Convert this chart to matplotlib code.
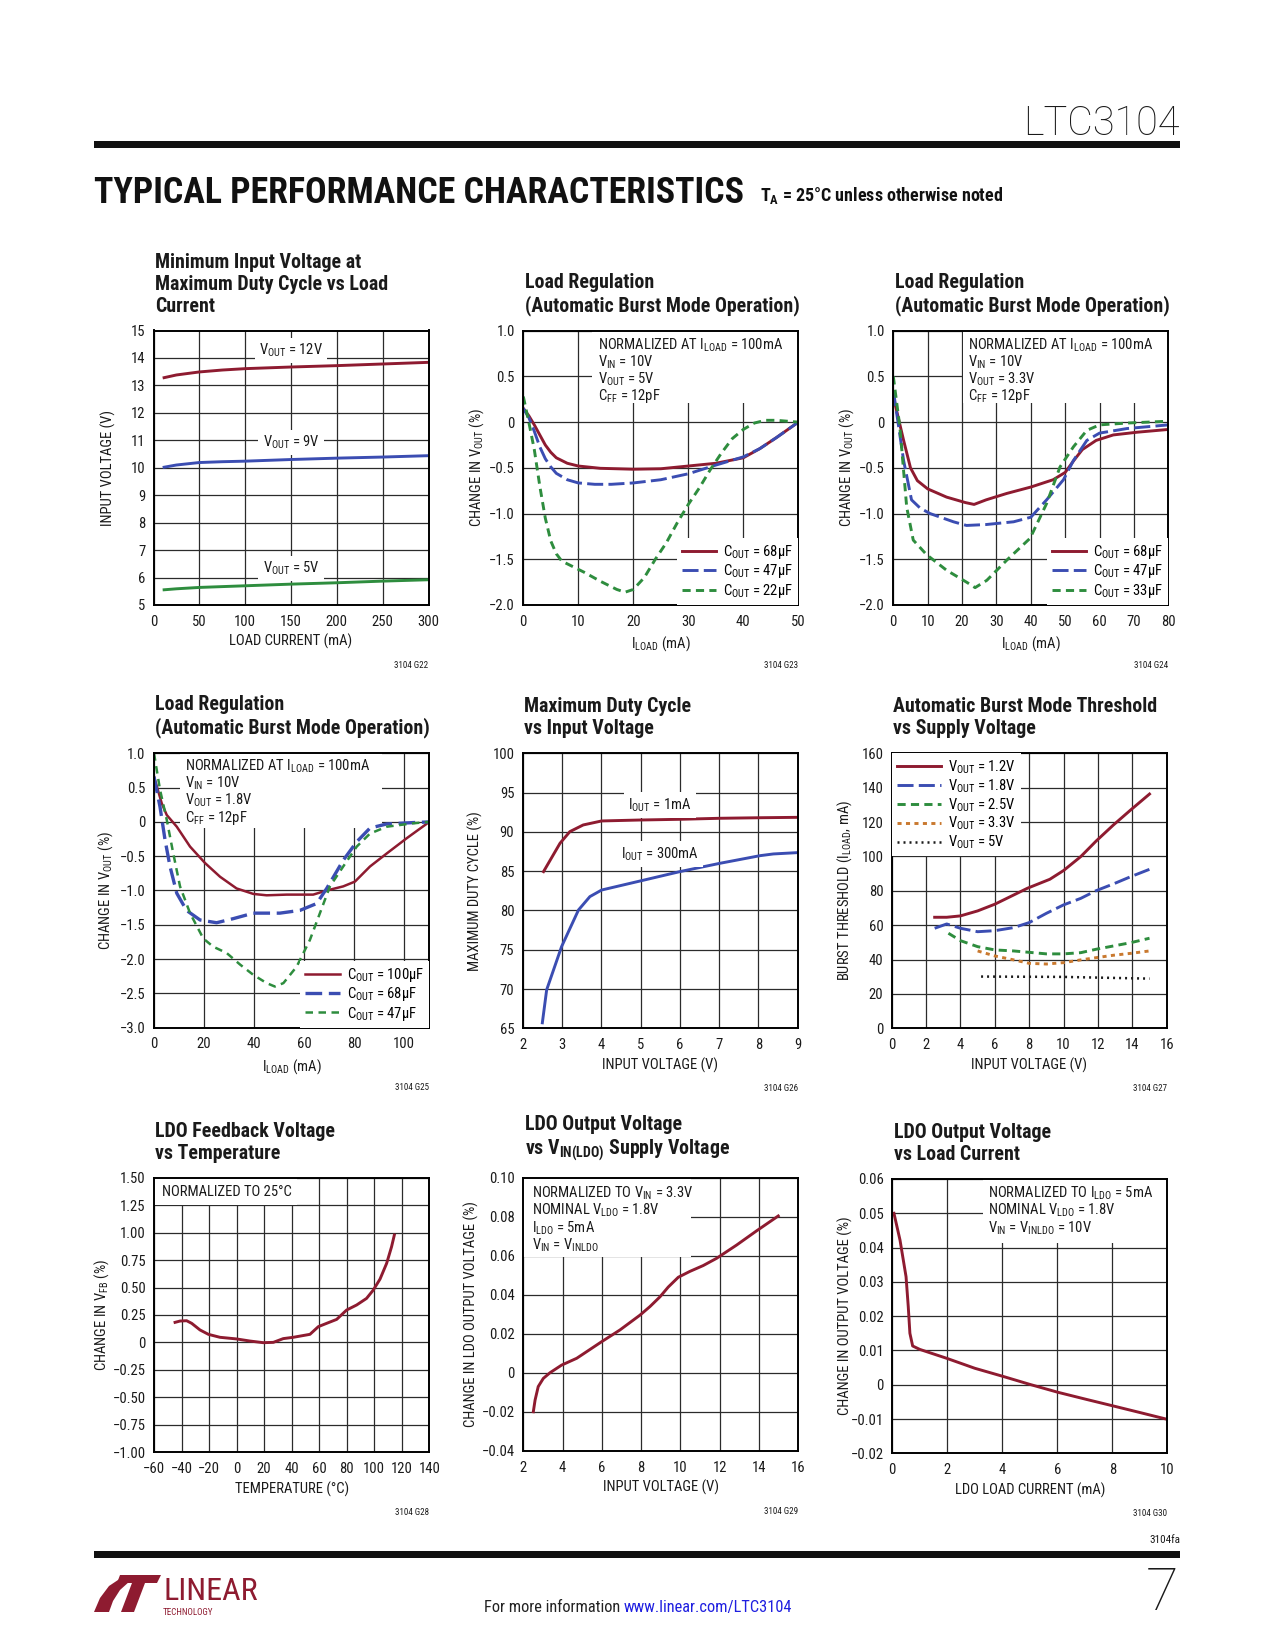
import matplotlib
matplotlib.use('Agg')
import matplotlib.pyplot as plt
from matplotlib import font_manager as fm
from matplotlib.patches import Rectangle, Polygon


def pick_font():
    ttf = fm.fontManager.ttflist
    names = {f.name for f in ttf}
    for n in ['Liberation Sans Narrow', 'Roboto Condensed', 'Open Sans Condensed',
              'Noto Sans Condensed', 'DejaVu Sans Condensed', 'Arial Narrow']:
        if n in names:
            return n, 'normal'
    for n in sorted(names):
        if ('Narrow' in n or 'Condensed' in n) and 'Serif' not in n and 'Mono' not in n \
                and 'CJK' not in n:
            return n, 'normal'
    for fam in ['Noto Sans', 'Open Sans', 'DejaVu Sans', 'Roboto', 'Inter']:
        for f in ttf:
            if f.name == fam and str(f.stretch) in ('condensed', 'semi-condensed',
                                                    'extra-condensed'):
                return fam, str(f.stretch)
    return 'Liberation Sans', 'normal'


FONT, STRETCH = pick_font()
_names = {f.name for f in fm.fontManager.ttflist}
LIGHT = 'Roboto' if 'Roboto' in _names else FONT

plt.rcParams['font.family'] = [FONT, 'DejaVu Sans']
plt.rcParams['font.stretch'] = STRETCH
plt.rcParams['mathtext.fontset'] = 'custom'
_suffix = '' if STRETCH == 'normal' else ':stretch=' + STRETCH
try:
    fm.FontProperties(FONT + _suffix)
except Exception:
    _suffix = ''
plt.rcParams['mathtext.rm'] = FONT + _suffix
plt.rcParams['mathtext.it'] = FONT + ':italic' + _suffix
plt.rcParams['mathtext.bf'] = FONT + ':bold' + _suffix
plt.rcParams['mathtext.sf'] = FONT + _suffix

RED = '#8E1B30'
BLUE = '#3B4DB2'
GREEN = '#2E8D3E'
ORANGE = '#C9792F'
BLACK = '#1a1a1a'

# ---------------- data ----------------
# G22: minimum input voltage vs load current
g22_x = [10, 25, 50, 75, 100, 150, 200, 250, 300]
g22_v12 = [13.27, 13.38, 13.49, 13.56, 13.61, 13.67, 13.72, 13.78, 13.84]
g22_v9 = [10.01, 10.10, 10.19, 10.22, 10.24, 10.30, 10.35, 10.39, 10.44]
g22_v5 = [5.55, 5.59, 5.64, 5.67, 5.70, 5.76, 5.81, 5.87, 5.92]
g22_labels = [r'V$_{\mathrm{OUT}}$ = 12V', r'V$_{\mathrm{OUT}}$ = 9V', r'V$_{\mathrm{OUT}}$ = 5V']

# G23: load regulation, VOUT = 5V
g23_x68 = [0, 1, 2, 3, 4, 5, 6, 8, 10, 14, 20, 25, 30, 35, 40, 43, 46, 50]
g23_y68 = [0.15, 0.07, -0.03, -0.14, -0.25, -0.33, -0.39, -0.45, -0.48, -0.505, -0.515, -0.51,
           -0.48, -0.45, -0.39, -0.29, -0.17, 0.0]
g23_x47 = [0, 1, 2, 3, 4, 5, 6, 8, 10, 13, 16, 20, 25, 30, 35, 40, 43, 46, 50]
g23_y47 = [0.15, 0.05, -0.10, -0.27, -0.40, -0.49, -0.56, -0.63, -0.665, -0.68, -0.68, -0.665,
           -0.63, -0.565, -0.47, -0.38, -0.29, -0.17, 0.0]
g23_x22 = [0, 1, 2, 3, 4, 5, 6, 7, 9, 11, 14, 17, 18.5, 20, 22, 24, 26, 28, 30, 32, 34, 36, 38,
           40, 42, 44, 46, 48, 50]
g23_y22 = [0.28, 0.0, -0.30, -0.70, -1.05, -1.30, -1.44, -1.52, -1.58, -1.64, -1.74, -1.83, -1.86,
           -1.83, -1.70, -1.50, -1.32, -1.10, -0.90, -0.72, -0.52, -0.34, -0.18, -0.08, -0.01,
           0.02, 0.02, 0.01, 0.0]
g23_labels = [r'C$_{\mathrm{OUT}}$ = 68µF', r'C$_{\mathrm{OUT}}$ = 47µF', r'C$_{\mathrm{OUT}}$ = 22µF']
g23_notes = [r'NORMALIZED AT I$_{\mathrm{LOAD}}$ = 100mA', r'V$_{\mathrm{IN}}$ = 10V',
             r'V$_{\mathrm{OUT}}$ = 5V', r'C$_{\mathrm{FF}}$ = 12pF']

# G24: load regulation, VOUT = 3.3V
g24_x68 = [0, 3, 5, 7, 10, 15.5, 21, 23.5, 27, 33, 40, 46.5, 50, 52.5, 55, 59, 64, 71, 80]
g24_y68 = [0.28, -0.20, -0.50, -0.64, -0.73, -0.82, -0.88, -0.90, -0.85, -0.78, -0.71, -0.63,
           -0.55, -0.42, -0.30, -0.20, -0.14, -0.11, -0.08]
g24_x47 = [0, 3, 5.3, 7.8, 10.7, 17.5, 21.3, 27, 35, 40, 44.6, 49.5, 52.4, 56.3, 60, 68, 80]
g24_y47 = [0.35, -0.42, -0.85, -0.94, -1.00, -1.09, -1.13, -1.12, -1.09, -1.04, -0.85, -0.63,
           -0.42, -0.20, -0.12, -0.07, -0.03]
g24_x33 = [0, 1.9, 3.9, 5.8, 9.7, 15.5, 21.3, 23.8, 27.2, 33, 39.8, 44.6, 48.5, 52.4, 56.3, 60,
           68, 80]
g24_y33 = [0.50, -0.05, -0.93, -1.29, -1.45, -1.62, -1.75, -1.81, -1.73, -1.51, -1.27, -0.89,
           -0.49, -0.27, -0.09, -0.03, -0.01, 0.01]
g24_labels = [r'C$_{\mathrm{OUT}}$ = 68µF', r'C$_{\mathrm{OUT}}$ = 47µF', r'C$_{\mathrm{OUT}}$ = 33µF']
g24_notes = [r'NORMALIZED AT I$_{\mathrm{LOAD}}$ = 100mA', r'V$_{\mathrm{IN}}$ = 10V',
             r'V$_{\mathrm{OUT}}$ = 3.3V', r'C$_{\mathrm{FF}}$ = 12pF']

# G25: load regulation, VOUT = 1.8V
g25_x100 = [0, 3.1, 5.1, 9.1, 14.4, 20.4, 26.4, 33, 39.7, 45, 53, 63.6, 69, 75.6, 80.3, 86.3, 93,
            100.9, 110]
g25_y100 = [0.66, 0.27, 0.10, -0.07, -0.36, -0.60, -0.80, -0.97, -1.05, -1.07, -1.06, -1.06, -1.00,
            -0.94, -0.87, -0.65, -0.46, -0.24, 0.0]
g25_x68 = [0, 2.4, 4.4, 6.4, 9.1, 13, 18.4, 25, 31.7, 39.7, 50.3, 58.3, 65, 69, 75.6, 81, 86.3,
           93, 103.6, 110]
g25_y68 = [0.66, 0.22, -0.26, -0.65, -1.04, -1.29, -1.43, -1.47, -1.41, -1.33, -1.33, -1.29, -1.19,
           -0.97, -0.56, -0.29, -0.09, -0.03, -0.01, 0.0]
g25_x47 = [0, 2.4, 5.1, 7.7, 10.4, 14.4, 19.7, 23.7, 29, 34.4, 39.7, 45, 48.3, 51.7, 57, 62.3,
           66.3, 70.3, 75.6, 81, 86.3, 93, 103.6, 110]
g25_y47 = [1.0, 0.47, 0.03, -0.46, -0.94, -1.33, -1.70, -1.82, -1.91, -2.08, -2.23, -2.35, -2.40,
           -2.35, -2.11, -1.72, -1.33, -0.94, -0.65, -0.36, -0.17, -0.07, -0.02, 0.0]
g25_labels = [r'C$_{\mathrm{OUT}}$ = 100µF', r'C$_{\mathrm{OUT}}$ = 68µF', r'C$_{\mathrm{OUT}}$ = 47µF']
g25_notes = [r'NORMALIZED AT I$_{\mathrm{LOAD}}$ = 100mA', r'V$_{\mathrm{IN}}$ = 10V',
             r'V$_{\mathrm{OUT}}$ = 1.8V', r'C$_{\mathrm{FF}}$ = 12pF']

# G26: maximum duty cycle vs input voltage
g26_x1 = [2.53, 2.95, 3.2, 3.54, 4.01, 4.99, 6.0, 7.02, 8.04, 9.0]
g26_y1 = [84.94, 88.55, 90.03, 90.88, 91.39, 91.51, 91.60, 91.73, 91.80, 91.85]
g26_x300 = [2.5, 2.61, 2.99, 3.42, 3.71, 4.01, 4.99, 6.0, 7.02, 8.04, 8.38, 9.0]
g26_y300 = [65.7, 69.9, 75.4, 80.06, 81.76, 82.6, 83.75, 84.94, 86.0, 86.97, 87.19, 87.36]
g26_labels = [r'I$_{\mathrm{OUT}}$ = 1mA', r'I$_{\mathrm{OUT}}$ = 300mA']

# G27: burst threshold vs supply voltage
g27_x12 = [2.5, 3.2, 4.0, 5.0, 6.0, 6.9, 7.9, 9.2, 10.0, 11.0, 11.9, 12.9, 13.9, 15.0]
g27_y12 = [64.6, 64.6, 65.4, 68.3, 72.2, 76.6, 81.5, 86.7, 91.8, 99.9, 109.0, 118.3, 127.0, 136.3]
g27_x18 = [2.5, 3.2, 4.0, 5.0, 6.0, 7.1, 8.0, 9.0, 10.0, 11.0, 11.9, 12.9, 13.9, 15.0]
g27_y18 = [58.2, 60.7, 58.2, 56.2, 56.8, 58.6, 61.5, 66.9, 71.8, 75.6, 80.1, 84.0, 88.2, 92.5]
g27_x25 = [3.3, 4.0, 5.0, 6.0, 7.1, 8.0, 9.0, 10.0, 11.0, 11.9, 12.9, 13.9, 15.0]
g27_y25 = [55.3, 51.0, 47.5, 45.6, 45.0, 44.2, 43.3, 43.3, 44.0, 46.0, 47.9, 49.8, 52.4]
g27_x33 = [5.0, 6.0, 7.1, 8.0, 9.0, 10.0, 11.0, 11.9, 12.9, 13.9, 15.0]
g27_y33 = [45.0, 42.1, 39.8, 37.8, 37.4, 38.2, 39.8, 41.1, 42.5, 43.6, 45.0]
g27_x5 = [5.2, 10.0, 15.0]
g27_y5 = [30.1, 29.9, 28.9]
g27_labels = [r'V$_{\mathrm{OUT}}$ = 1.2V', r'V$_{\mathrm{OUT}}$ = 1.8V', r'V$_{\mathrm{OUT}}$ = 2.5V',
              r'V$_{\mathrm{OUT}}$ = 3.3V', r'V$_{\mathrm{OUT}}$ = 5V']

# G28: LDO feedback voltage vs temperature
g28_t = [-44.7, -41.1, -36.3, -32.6, -26.6, -20.5, -12.1, 0, 9.7, 19.4, 26.7, 33.9, 41.2, 53.3,
         59.4, 65.4, 72.7, 79.9, 87.2, 94.4, 99.3, 104.2, 109.0, 112.6, 114.6]
g28_v = [0.183, 0.195, 0.198, 0.174, 0.114, 0.074, 0.047, 0.032, 0.013, -0.002, 0.001, 0.035,
         0.047, 0.074, 0.144, 0.174, 0.210, 0.295, 0.341, 0.401, 0.477, 0.577, 0.720, 0.872, 0.978]

# G29: LDO output voltage vs VIN(LDO)
g29_x = [2.51, 2.6, 2.76, 3.02, 3.36, 3.95, 4.72, 5.99, 6.92, 7.94, 8.45, 8.96, 9.38, 9.89,
         10.48, 11.16, 11.84, 12.86, 13.88, 14.98]
g29_y = [-0.0199, -0.0139, -0.007, -0.0028, 0.0001, 0.004, 0.0075, 0.016, 0.022, 0.0296, 0.034,
         0.039, 0.044, 0.049, 0.052, 0.055, 0.0587, 0.0655, 0.0728, 0.0804]
g29_notes = [r'NORMALIZED TO V$_{\mathrm{IN}}$ = 3.3V', r'NOMINAL V$_{\mathrm{LDO}}$ = 1.8V',
             r'I$_{\mathrm{LDO}}$ = 5mA', r'V$_{\mathrm{IN}}$ = V$_{\mathrm{INLDO}}$']

# G30: LDO output voltage vs load current
g30_x = [0.06, 0.28, 0.5, 0.58, 0.64, 0.74, 1.0, 1.98, 3.0, 4.04, 5.0, 6.02, 7.07, 8.04, 9.0, 10.0]
g30_y = [0.05, 0.0422, 0.0315, 0.0228, 0.015, 0.0113, 0.0103, 0.0077, 0.0048, 0.0024, 0.0001,
         -0.0022, -0.0043, -0.0062, -0.0081, -0.0101]
g30_notes = [r'NORMALIZED TO I$_{\mathrm{LDO}}$ = 5mA', r'NOMINAL V$_{\mathrm{LDO}}$ = 1.8V',
             r'V$_{\mathrm{IN}}$ = V$_{\mathrm{INLDO}}$ = 10V']

# tick labels
t_g22_x = [0, 50, 100, 150, 200, 250, 300]
t_g22_y = [5, 6, 7, 8, 9, 10, 11, 12, 13, 14, 15]
t_reg_y = [-2.0, -1.5, -1.0, -0.5, 0, 0.5, 1.0]
t_reg_yl = ['−2.0', '−1.5', '−1.0', '−0.5', '0', '0.5', '1.0']
t_g23_x = [0, 10, 20, 30, 40, 50]
t_g24_x = [0, 10, 20, 30, 40, 50, 60, 70, 80]
t_g25_x = [0, 20, 40, 60, 80, 100]
t_g25_y = [-3.0, -2.5, -2.0, -1.5, -1.0, -0.5, 0, 0.5, 1.0]
t_g25_yl = ['−3.0', '−2.5', '−2.0', '−1.5', '−1.0', '−0.5', '0', '0.5', '1.0']
t_g26_x = [2, 3, 4, 5, 6, 7, 8, 9]
t_g26_y = [65, 70, 75, 80, 85, 90, 95, 100]
t_g27_x = [0, 2, 4, 6, 8, 10, 12, 14, 16]
t_g27_y = [0, 20, 40, 60, 80, 100, 120, 140, 160]
t_g28_x = [-60, -40, -20, 0, 20, 40, 60, 80, 100, 120, 140]
t_g28_xl = ['−60', '−40', '−20', '0', '20', '40', '60', '80', '100', '120', '140']
t_g28_y = [-1.0, -0.75, -0.5, -0.25, 0, 0.25, 0.5, 0.75, 1.0, 1.25, 1.5]
t_g28_yl = ['−1.00', '−0.75', '−0.50', '−0.25', '0', '0.25', '0.50', '0.75', '1.00', '1.25', '1.50']
t_g29_x = [2, 4, 6, 8, 10, 12, 14, 16]
t_g29_y = [-0.04, -0.02, 0, 0.02, 0.04, 0.06, 0.08, 0.10]
t_g29_yl = ['−0.04', '−0.02', '0', '0.02', '0.04', '0.06', '0.08', '0.10']
t_g30_x = [0, 2, 4, 6, 8, 10]
t_g30_y = [-0.02, -0.01, 0, 0.01, 0.02, 0.03, 0.04, 0.05, 0.06]
t_g30_yl = ['−0.02', '−0.01', '0', '0.01', '0.02', '0.03', '0.04', '0.05', '0.06']

# ---------------- figure ----------------
W, H = 1275, 1650
fig = plt.figure(figsize=(12.75, 16.5), dpi=100)
R = fig.canvas.get_renderer()


def fit_size(s, target_px, base=10.0, **kw):
    t = fig.text(0, 0, s, fontsize=base, **kw)
    w = t.get_window_extent(renderer=R).width
    t.remove()
    return base * target_px / w


FS = min(10.5, fit_size(r'NORMALIZED AT I$_{\mathrm{LOAD}}$ = 100mA', 191))
TFS = min(14.5, fit_size('(Automatic Burst Mode Operation)', 274, fontweight='bold'))


def fx(px):
    return px / W


def fy(py):
    return 1 - py / H


def add_ax(l, t, r, b):
    return fig.add_axes([l / W, 1 - b / H, (r - l) / W, (b - t) / H])


def style(ax, xlim, ylim, xt, xtl, yt, ytl, xlabel, ylabel, yoff, title, code):
    ax.set_xlim(xlim)
    ax.set_ylim(ylim)
    ax.set_xticks(xt)
    ax.set_xticklabels([str(v) for v in xtl])
    ax.set_yticks(yt)
    ax.set_yticklabels([str(v) for v in ytl])
    ax.grid(True, color='#2b2b2b', lw=0.9)
    ax.set_axisbelow(True)
    for s in ax.spines.values():
        s.set_linewidth(1.4)
        s.set_color('black')
    ax.tick_params(axis='both', length=0, labelsize=FS, colors=BLACK)
    ax.tick_params(axis='x', pad=7)
    ax.tick_params(axis='y', pad=6)
    pos = ax.get_position()
    wpx = pos.width * W
    hpx = pos.height * H
    ax.set_xlabel(xlabel, fontsize=FS, color=BLACK)
    ax.xaxis.set_label_coords(0.5, -29 / hpx)
    ax.set_ylabel(ylabel, fontsize=FS, color=BLACK)
    ax.yaxis.set_label_coords(-yoff / wpx, 0.5)
    ax.text(0.005, 1 + 15 / hpx, title, transform=ax.transAxes, ha='left', va='bottom',
            fontsize=TFS, fontweight='bold', linespacing=1.2, color=BLACK)
    ax.text(1, -60 / hpx, code, transform=ax.transAxes, ha='right', va='center',
            fontsize=6.5, color=BLACK)


def whitebox(ax, x0, y0, x1, y1):
    ax.add_patch(Rectangle((x0, y0), x1 - x0, y1 - y0, transform=ax.transAxes,
                           fc='white', ec='none', zorder=1))


def notes(ax, x, lines, first=18.5, step=17):
    for i, s in enumerate(lines):
        ax.annotate(s, xy=(x, 1), xycoords='axes fraction',
                    xytext=(0, -(first + i * step) * 0.72), textcoords='offset points',
                    ha='left', va='baseline', fontsize=FS, zorder=4, color=BLACK)


def legend(ax, loc, hl=2.3):
    lg = ax.legend(loc=loc, borderaxespad=0, frameon=True, fancybox=False, framealpha=1,
                   facecolor='white', edgecolor='none', fontsize=FS, handlelength=hl,
                   handletextpad=0.5, labelspacing=0.1, borderpad=0.35)
    lg.set_zorder(5)
    return lg


LW = 2.1
LONG = (5.5, 1.8)
SHORT = (2.8, 1.8)

# ---- G22 ----
ax = add_ax(153.5, 330.5, 428.5, 605)
style(ax, (0, 300), (5, 15), t_g22_x, t_g22_x, t_g22_y, t_g22_y, 'LOAD CURRENT (mA)',
      'INPUT VOLTAGE (V)', 37, 'Minimum Input Voltage at\nMaximum Duty Cycle vs Load\nCurrent',
      '3104 G22')
ax.plot(g22_x, g22_v12, color=RED, lw=LW, solid_capstyle='butt')
ax.plot(g22_x, g22_v9, color=BLUE, lw=LW, solid_capstyle='butt')
ax.plot(g22_x, g22_v5, color=GREEN, lw=LW, solid_capstyle='butt')
for lab, yv in zip(g22_labels, [14.27, 10.92, 6.33]):
    ax.text(150, yv, lab, ha='center', va='center', fontsize=FS, zorder=4, color=BLACK,
            bbox=dict(fc='white', ec='none', pad=3))

# ---- G23 ----
ax = add_ax(523.3, 330.7, 798.3, 605)
style(ax, (0, 50), (-2, 1), t_g23_x, t_g23_x, t_reg_y, t_reg_yl, r'I$_{\mathrm{LOAD}}$ (mA)',
      r'CHANGE IN V$_{\mathrm{OUT}}$ (%)', 37, 'Load Regulation\n(Automatic Burst Mode Operation)',
      '3104 G23')
whitebox(ax, 0.25, 0.735, 1.0, 1.0)
notes(ax, 0.27, g23_notes)
ax.plot(g23_x68, g23_y68, color=RED, lw=LW, label=g23_labels[0])
ax.plot(g23_x47, g23_y47, color=BLUE, lw=LW, dashes=LONG, label=g23_labels[1])
ax.plot(g23_x22, g23_y22, color=GREEN, lw=LW, dashes=SHORT, label=g23_labels[2])
legend(ax, 'lower right')

# ---- G24 ----
ax = add_ax(893.3, 330.7, 1168.3, 605)
style(ax, (0, 80), (-2, 1), t_g24_x, t_g24_x, t_reg_y, t_reg_yl, r'I$_{\mathrm{LOAD}}$ (mA)',
      r'CHANGE IN V$_{\mathrm{OUT}}$ (%)', 37, 'Load Regulation\n(Automatic Burst Mode Operation)',
      '3104 G24')
whitebox(ax, 0.255, 0.735, 1.0, 1.0)
notes(ax, 0.273, g24_notes)
ax.plot(g24_x68, g24_y68, color=RED, lw=LW, label=g24_labels[0])
ax.plot(g24_x47, g24_y47, color=BLUE, lw=LW, dashes=LONG, label=g24_labels[1])
ax.plot(g24_x33, g24_y33, color=GREEN, lw=LW, dashes=SHORT, label=g24_labels[2])
legend(ax, 'lower right')

# ---- G25 ----
ax = add_ax(154, 753.3, 429.3, 1027.7)
style(ax, (0, 110), (-3, 1), t_g25_x, t_g25_x, t_g25_y, t_g25_yl, r'I$_{\mathrm{LOAD}}$ (mA)',
      r'CHANGE IN V$_{\mathrm{OUT}}$ (%)', 39, 'Load Regulation\n(Automatic Burst Mode Operation)',
      '3104 G25')
whitebox(ax, 0.094, 0.727, 0.827, 1.0)
notes(ax, 0.113, g25_notes, first=17.5)
ax.plot(g25_x100, g25_y100, color=RED, lw=1.8, label=g25_labels[0])
ax.plot(g25_x68, g25_y68, color=BLUE, lw=2.4, dashes=(5.0, 2.0), label=g25_labels[1])
ax.plot(g25_x47, g25_y47, color=GREEN, lw=1.8, dashes=(3.0, 2.2), label=g25_labels[2])
legend(ax, 'lower right', hl=2.4)

# ---- G26 ----
ax = add_ax(522.7, 753.3, 797.7, 1028.3)
style(ax, (2, 9), (65, 100), t_g26_x, t_g26_x, t_g26_y, t_g26_y, 'INPUT VOLTAGE (V)',
      'MAXIMUM DUTY CYCLE (%)', 40, 'Maximum Duty Cycle\nvs Input Voltage', '3104 G26')
ax.plot(g26_x1, g26_y1, color=RED, lw=LW)
ax.plot(g26_x300, g26_y300, color=BLUE, lw=LW)
for lab, yv in zip(g26_labels, [93.42, 87.19]):
    ax.text(5.49, yv, lab, ha='center', va='center', fontsize=FS, zorder=4, color=BLACK,
            bbox=dict(fc='white', ec='none', pad=3))

# ---- G27 ----
ax = add_ax(891.7, 753.3, 1166.7, 1028.3)
style(ax, (0, 16), (0, 160), t_g27_x, t_g27_x, t_g27_y, t_g27_y, 'INPUT VOLTAGE (V)',
      r'BURST THRESHOLD (I$_{\mathrm{LOAD}}$, mA)', 38,
      'Automatic Burst Mode Threshold\nvs Supply Voltage', '3104 G27')
ax.plot(g27_x12, g27_y12, color=RED, lw=LW, label=g27_labels[0])
ax.plot(g27_x18, g27_y18, color=BLUE, lw=LW, dashes=LONG, label=g27_labels[1])
ax.plot(g27_x25, g27_y25, color=GREEN, lw=LW, dashes=SHORT, label=g27_labels[2])
ax.plot(g27_x33, g27_y33, color=ORANGE, lw=LW, dashes=(1.4, 1.5), label=g27_labels[3])
ax.plot(g27_x5, g27_y5, color=BLACK, lw=1.8, dashes=(0.8, 1.6), label=g27_labels[4])
legend(ax, 'upper left', hl=3.0)

# ---- G28 ----
ax = add_ax(154, 1177.7, 429.3, 1452.3)
style(ax, (-60, 140), (-1, 1.5), t_g28_x, t_g28_xl, t_g28_y, t_g28_yl, 'TEMPERATURE (°C)',
      r'CHANGE IN V$_{\mathrm{FB}}$ (%)', 43, 'LDO Feedback Voltage\nvs Temperature', '3104 G28')
whitebox(ax, 0.0, 0.9, 0.52, 1.0)
notes(ax, 0.03, ['NORMALIZED TO 25°C'], first=18.3)
ax.plot(g28_t, g28_v, color=RED, lw=LW)

# ---- G29 ----
ax = add_ax(523.3, 1177.7, 798.3, 1451)
style(ax, (2, 16), (-0.04, 0.10), t_g29_x, t_g29_x, t_g29_y, t_g29_yl, 'INPUT VOLTAGE (V)',
      'CHANGE IN LDO OUTPUT VOLTAGE (%)', 44,
      'LDO Output Voltage\n' + r'vs V$_{\mathbf{IN(LDO)}}$ Supply Voltage', '3104 G29')
whitebox(ax, 0.0, 0.71, 0.61, 1.0)
notes(ax, 0.03, g29_notes, first=20, step=17.3)
ax.plot(g29_x, g29_y, color=RED, lw=LW)

# ---- G30 ----
ax = add_ax(892.3, 1179, 1167.3, 1453.3)
style(ax, (0, 10), (-0.02, 0.06), t_g30_x, t_g30_x, t_g30_y, t_g30_yl, 'LDO LOAD CURRENT (mA)',
      'CHANGE IN OUTPUT VOLTAGE (%)', 39, 'LDO Output Voltage\nvs Load Current', '3104 G30')
whitebox(ax, 0.33, 0.766, 1.0, 1.0)
notes(ax, 0.349, g30_notes, first=18.7, step=17.3)
ax.plot(g30_x, g30_y, color=RED, lw=LW)

# ---------------- page decoration ----------------
HEAD = 'TYPICAL PERFORMANCE CHARACTERISTICS'
SUB = r'T$_{\mathbf{A}}$ = 25°C unless otherwise noted'
PART = 'LTC3104'
MORE = 'For more information '
URL = 'www.linear.com/LTC3104'

fs_part = min(34, fit_size(PART, 157, family=LIGHT, fontweight='light'))
fig.text(fx(1180), fy(135), PART, ha='right', va='baseline', fontsize=fs_part,
         family=LIGHT, fontweight='light', color=BLACK)
fig.add_artist(Rectangle((fx(94), fy(148)), fx(1180) - fx(94), 7 / H, transform=fig.transFigure,
                         fc='#111111', ec='none'))
fs_head = fit_size(HEAD, 648, fontweight='heavy')
fig.text(fx(94), fy(203), HEAD, ha='left', va='baseline', fontsize=fs_head, fontweight='heavy',
         color='#111111')
fs_sub = min(13, fit_size(SUB, 270, fontweight='bold'))
fig.text(fx(760), fy(201), SUB, ha='left', va='baseline', fontsize=fs_sub, fontweight='bold',
         color='#111111')

fig.text(fx(1180), fy(1543), '3104fa', ha='right', va='baseline', fontsize=8, color=BLACK)
fig.add_artist(Rectangle((fx(94), fy(1558)), fx(1180) - fx(94), 7 / H, transform=fig.transFigure,
                         fc='#111111', ec='none'))
fig.text(fx(1178), fy(1610), '7', ha='right', va='baseline', fontsize=43,
         family=LIGHT, fontweight='light', color=BLACK)

fs_more = min(13, fit_size(MORE + URL, 308))
t1 = fig.text(fx(484), fy(1612), MORE, ha='left', va='baseline', fontsize=fs_more,
              color='#222222')
_w1 = t1.get_window_extent(renderer=R).width
fig.text(fx(484) + _w1 / W, fy(1612), URL, fontsize=fs_more, color='#1f1fe0', ha='left',
         va='baseline')


def P(pts):
    return [(x / W, 1 - y / H) for x, y in pts]


fig.add_artist(Polygon(P([(94, 1612), (100, 1598), (109, 1586), (121, 1578), (136, 1575),
                          (130, 1581), (120, 1590), (113, 1601), (109, 1612)]),
                       closed=True, transform=fig.transFigure, fc=RED, ec='none'))
fig.add_artist(Polygon(P([(120, 1575), (161, 1575), (157, 1583), (145, 1583), (134, 1612),
                          (121, 1612), (132, 1583), (117, 1583)]),
                       closed=True, transform=fig.transFigure, fc=RED, ec='none'))
fs_lin = fit_size('LINEAR', 94)
fig.text(fx(163), fy(1600), 'LINEAR', ha='left', va='baseline', fontsize=fs_lin, color=RED)
fig.text(fx(163), fy(1615), 'TECHNOLOGY', ha='left', va='baseline', fontsize=6.5, color=RED)

fig.savefig('out.png', dpi=100, facecolor='white')
